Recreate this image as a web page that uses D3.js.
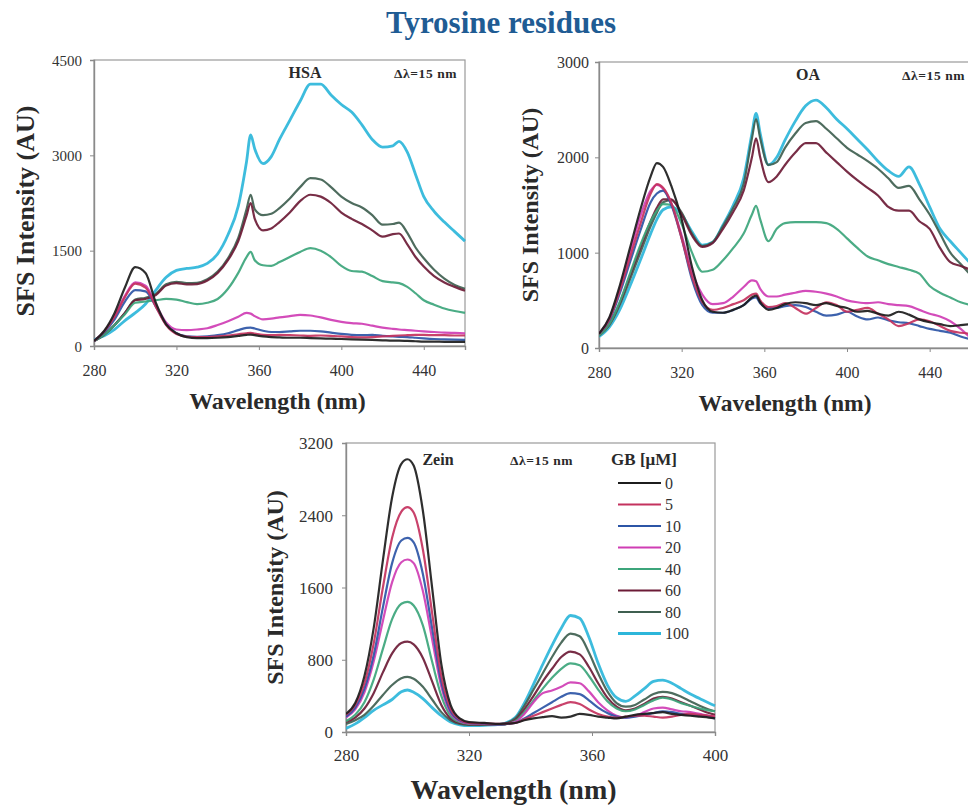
<!DOCTYPE html>
<html>
<head>
<meta charset="utf-8">
<script src="https://cdn.jsdelivr.net/npm/d3@7"></script>
<style>
  html, body { margin: 0; padding: 0; background: #fff; overflow: hidden; }
  svg, svg text { font-family: "Liberation Serif", "Times New Roman", "DejaVu Serif", serif; }
</style>
</head>
<body>
<svg id="chart" width="968" height="805"></svg>
<script>
const SERIF = "'Liberation Serif', 'Times New Roman', 'DejaVu Serif', serif";

// GB concentrations (µM) and the line colour used for each
const concentrations = ["0", "5", "10", "20", "40", "60", "80", "100"];
const seriesColors = ["#1c1c1c", "#c4325e", "#2c55a6", "#cf3db4", "#3ca57b", "#6c1b36", "#3f5f50", "#2db6da"];

// ---- HSA panel ----
const hsaWavelengths = [280,285,290,295,300,305,310,315,320,325,330,335,340,345,350,354,356,358,362,366,370,375,380,385,390,395,400,405,410,415,420,425,428,432,436,440,445,450,455,460];
const hsaValues = [
  /* 0 */   [80,240,520,920,1240,1150,680,340,200,140,125,125,130,140,160,175,180,170,150,140,135,130,130,125,120,115,110,105,100,95,90,85,85,80,75,70,70,65,65,65],
  /* 5 */   [80,230,460,770,980,920,620,330,190,150,140,140,150,165,185,200,205,195,175,170,175,170,165,160,165,160,150,140,135,140,150,160,165,170,175,175,170,170,165,165],
  /* 10 */  [80,220,420,700,880,860,620,340,200,150,145,150,170,200,250,285,290,275,240,220,220,230,240,240,230,210,190,175,170,175,160,150,145,140,130,120,110,105,100,95],
  /* 20 */  [80,230,470,790,1000,950,650,370,260,250,260,280,330,390,460,520,510,470,420,430,450,470,490,480,450,410,380,360,350,320,290,270,260,250,240,230,220,210,205,200],
  /* 40 */  [80,180,330,500,680,700,720,740,730,690,660,680,740,900,1150,1400,1480,1350,1270,1260,1320,1400,1480,1540,1500,1400,1260,1180,1170,1100,1020,1000,990,930,830,720,650,590,550,520],
  /* 60 */  [80,180,330,520,720,740,800,950,990,970,975,1030,1150,1350,1650,2050,2250,2000,1820,1850,1950,2100,2280,2380,2350,2250,2100,2000,1920,1820,1720,1760,1770,1600,1400,1250,1100,1000,930,870],
  /* 80 */  [80,180,330,520,730,760,820,970,1010,990,995,1050,1170,1380,1700,2150,2380,2150,2060,2080,2170,2320,2500,2640,2620,2500,2350,2250,2180,2060,1910,1920,1940,1780,1550,1380,1200,1060,960,900],
  /* 100 */ [100,160,260,400,520,660,880,1080,1190,1220,1240,1300,1450,1750,2200,2900,3320,3100,2870,2980,3250,3550,3850,4120,4120,3950,3800,3680,3480,3250,3130,3150,3220,3050,2700,2350,2120,1950,1800,1650]
];
const hsaYTicks = [0, 1500, 3000, 4500];
const hsaXTicks = [280, 320, 360, 400, 440];

// ---- OA panel ----
const oaWavelengths = [280,285,290,295,300,305,308,311,315,320,325,330,335,340,345,350,354,356,358,362,366,370,375,380,385,390,395,400,405,410,415,420,425,430,435,440,445,450,455,460];
const oaValues = [
  /* 0 */   [150,320,650,1050,1450,1800,1940,1900,1700,1350,850,500,380,370,400,450,530,550,480,400,420,460,480,470,450,470,440,420,380,390,360,340,380,350,300,270,250,230,240,250],
  /* 5 */   [150,300,600,950,1300,1620,1720,1680,1520,1150,750,480,400,420,460,500,560,570,500,430,440,470,420,360,420,480,450,380,400,420,360,300,230,260,300,280,230,180,160,150],
  /* 10 */  [150,290,570,900,1230,1530,1620,1650,1500,1150,720,450,370,370,400,450,520,530,470,420,420,440,450,430,380,340,350,380,330,300,320,290,270,260,230,200,180,160,120,90],
  /* 20 */  [150,310,620,1000,1380,1650,1710,1670,1520,1180,800,560,460,470,540,640,710,700,620,540,540,560,580,600,590,570,540,500,480,470,480,460,450,440,400,360,330,280,200,100],
  /* 40 */  [130,250,480,780,1080,1330,1440,1510,1500,1300,1000,800,820,920,1050,1200,1400,1490,1350,1120,1250,1310,1320,1320,1320,1310,1250,1150,1050,960,920,880,850,820,780,650,580,530,480,450],
  /* 60 */  [130,250,470,760,1050,1330,1470,1560,1560,1400,1180,1060,1100,1250,1430,1650,2000,2200,2000,1740,1800,1920,2050,2150,2150,2050,1950,1850,1760,1680,1600,1480,1440,1440,1330,1250,1050,900,860,820],
  /* 80 */  [130,240,450,720,1000,1280,1420,1530,1550,1420,1200,1070,1110,1280,1470,1720,2200,2400,2200,1920,1950,2100,2250,2360,2380,2300,2200,2100,2030,1960,1880,1780,1680,1700,1560,1400,1200,1000,880,760],
  /* 100 */ [120,220,400,650,920,1200,1350,1450,1480,1400,1220,1080,1110,1290,1500,1780,2250,2460,2250,1920,2000,2180,2380,2540,2600,2520,2400,2300,2190,2080,1960,1860,1800,1900,1720,1480,1250,1120,1000,880]
];
const oaYTicks = [0, 1000, 2000, 3000];
const oaXTicks = [280, 320, 360, 400, 440];

// ---- Zein panel ----
const zeinWavelengths = [280,283,286,289,292,295,298,300,302,305,308,311,314,317,320,325,330,335,338,341,344,347,350,353,356,359,362,365,368,371,374,377,380,383,386,389,392,395,398,400];
const zeinValues = [
  /* 0 */   [200,320,620,1150,1900,2600,2970,3020,2950,2450,1600,750,300,150,110,100,90,100,130,150,165,175,160,170,200,190,170,160,150,170,190,200,210,220,200,190,180,170,160,150],
  /* 5 */   [190,300,540,980,1600,2150,2440,2490,2430,2020,1320,620,260,140,100,95,90,100,140,180,220,260,300,330,310,250,200,170,160,170,180,180,170,160,170,190,200,190,180,170],
  /* 10 */  [170,270,480,850,1380,1870,2120,2150,2100,1750,1150,550,230,130,100,90,85,100,150,210,270,330,390,430,420,350,270,210,170,160,170,190,210,230,220,200,190,180,170,150],
  /* 20 */  [160,250,440,780,1230,1660,1880,1910,1870,1560,1030,500,210,120,95,90,85,110,200,330,430,460,500,550,540,450,330,240,180,160,180,220,260,270,250,230,220,200,180,170],
  /* 40 */  [120,190,330,580,920,1250,1420,1440,1400,1180,780,400,180,110,90,85,80,120,220,350,480,600,700,760,740,620,470,340,260,230,250,300,350,380,360,320,290,260,240,230],
  /* 60 */  [110,160,260,430,660,870,985,1000,970,820,560,300,150,100,85,80,80,130,250,400,560,700,830,890,860,720,540,380,280,240,260,310,370,390,370,330,290,250,210,190],
  /* 80 */  [90,130,190,290,410,520,595,610,590,500,360,220,130,90,80,80,85,150,290,470,650,830,990,1090,1060,880,650,450,320,280,300,360,420,445,430,390,340,290,250,230],
  /* 100 */ [40,90,160,240,300,360,445,465,440,370,270,180,110,80,70,75,85,160,320,530,750,960,1150,1290,1260,1050,760,520,380,340,400,480,560,575,540,480,420,370,320,290]
];
const zeinYTicks = [0, 800, 1600, 2400, 3200];
const zeinXTicks = [280, 320, 360, 400];

const svg = d3.select("#chart");

// Figure title
svg.append("text")
  .attr("x", 501).attr("y", 33)
  .attr("text-anchor", "middle")
  .style("font-family", SERIF)
  .attr("font-size", 31).attr("font-weight", "bold")
  .attr("fill", "#1f5c94")
  .text("Tyrosine residues");

function drawPanel(cfg) {
  const x = d3.scaleLinear().domain(cfg.xDomain).range([cfg.left, cfg.right]);
  const y = d3.scaleLinear().domain(cfg.yDomain).range([cfg.bottom, cfg.top]);
  const g = svg.append("g").style("font-family", SERIF);

  // frame
  g.append("rect")
    .attr("x", cfg.left).attr("y", cfg.top)
    .attr("width", cfg.right - cfg.left).attr("height", cfg.bottom - cfg.top)
    .attr("fill", "none").attr("stroke", "#9a9a9a").attr("stroke-width", 1.2);

  // axes
  const xAxis = g.append("g")
    .attr("transform", `translate(0,${cfg.bottom})`)
    .call(d3.axisBottom(x).tickValues(cfg.xTicks).tickSize(4).tickPadding(cfg.xPad).tickFormat(d3.format("d")));
  const yAxis = g.append("g")
    .attr("transform", `translate(${cfg.left},0)`)
    .call(d3.axisLeft(y).tickValues(cfg.yTicks).tickSize(4).tickPadding(cfg.yPad).tickFormat(d3.format("d")));
  [xAxis, yAxis].forEach(a => {
    a.attr("font-family", null).style("font-family", SERIF);
    a.select(".domain").attr("stroke", "#8a8a8a").attr("stroke-width", 1.4);
    a.selectAll(".tick line").attr("stroke", "#8a8a8a");
    a.selectAll(".tick text")
      .style("font-family", SERIF)
      .attr("fill", "#333");
  });
  xAxis.selectAll(".tick text").attr("font-size", cfg.xTickFont);
  yAxis.selectAll(".tick text").attr("font-size", cfg.yTickFont).attr("dy", "0.35em");

  // spectra
  const clipId = "clip-" + cfg.name;
  svg.append("clipPath").attr("id", clipId)
    .append("rect").attr("x", cfg.left).attr("y", cfg.top - 6)
    .attr("width", cfg.right - cfg.left + 2).attr("height", cfg.bottom - cfg.top + 8);
  const line = d3.line()
    .x((d, i) => x(cfg.wavelengths[i]))
    .y(d => y(d))
    .curve(d3.curveMonotoneX);
  const order = d3.range(cfg.values.length).reverse();
  g.append("g").attr("clip-path", `url(#${clipId})`)
    .selectAll("path")
    .data(order)
    .join("path")
      .attr("d", i => line(cfg.values[i]))
      .attr("fill", "none")
      .attr("stroke", i => seriesColors[i])
      .attr("stroke-width", i => i === 7 ? 2.8 : 2.2)
      .attr("stroke-linejoin", "round")
      .attr("opacity", 0.92);

  // axis titles
  g.append("text")
    .attr("x", (cfg.left + cfg.right) / 2 + cfg.xTitleDx).attr("y", cfg.xTitleY)
    .attr("text-anchor", "middle").attr("font-weight", "bold")
    .attr("font-size", cfg.xTitleFont).attr("fill", "#2a2a2a")
    .text("Wavelength (nm)");
  g.append("text")
    .attr("transform", `translate(${cfg.yTitleX},${(cfg.top + cfg.bottom) / 2 + cfg.yTitleDy}) rotate(-90)`)
    .attr("text-anchor", "middle").attr("font-weight", "bold")
    .attr("font-size", cfg.yTitleFont).attr("fill", "#2a2a2a")
    .text("SFS Intensity (AU)");

  // in-plot labels
  g.append("text")
    .attr("x", cfg.nameX).attr("y", cfg.labelY)
    .attr("text-anchor", "middle").attr("font-weight", "bold")
    .attr("font-size", 16).attr("fill", "#2a2a2a")
    .text(cfg.name);
  g.append("text")
    .attr("x", cfg.deltaX).attr("y", cfg.labelY)
    .attr("font-weight", "bold")
    .attr("font-size", 13.5).attr("letter-spacing", 0.6).attr("fill", "#2a2a2a")
    .text("Δλ=15 nm");

  return { x, y, g };
}

drawPanel({
  name: "HSA", left: 94, right: 465, top: 60, bottom: 346,
  xDomain: [280, 460], yDomain: [0, 4500],
  wavelengths: hsaWavelengths, values: hsaValues,
  xTicks: hsaXTicks, yTicks: hsaYTicks,
  xPad: 15, yPad: 8, xTickFont: 16, yTickFont: 15,
  xTitleY: 409, xTitleDx: -2, xTitleFont: 24,
  yTitleX: 34, yTitleDy: 8, yTitleFont: 26,
  nameX: 305, deltaX: 394, labelY: 78
});

drawPanel({
  name: "OA", left: 599, right: 971, top: 62, bottom: 348,
  xDomain: [280, 460], yDomain: [0, 3000],
  wavelengths: oaWavelengths, values: oaValues,
  xTicks: oaXTicks, yTicks: oaYTicks,
  xPad: 15, yPad: 6, xTickFont: 16, yTickFont: 16,
  xTitleY: 411, xTitleDx: 0, xTitleFont: 23.5,
  yTitleX: 538, yTitleDy: 0, yTitleFont: 24,
  nameX: 808, deltaX: 902, labelY: 80
});

const zein = drawPanel({
  name: "Zein", left: 346, right: 715, top: 443, bottom: 732,
  xDomain: [280, 400], yDomain: [0, 3200],
  wavelengths: zeinWavelengths, values: zeinValues,
  xTicks: zeinXTicks, yTicks: zeinYTicks,
  xPad: 13, yPad: 9, xTickFont: 17, yTickFont: 17,
  xTitleY: 799, xTitleDx: -17, xTitleFont: 28,
  yTitleX: 283, yTitleDy: 0, yTitleFont: 24,
  nameX: 438, deltaX: 510, labelY: 465
});

// Legend (GB concentration) inside the Zein panel
const legend = zein.g.append("g");
legend.append("text")
  .attr("x", 644).attr("y", 465)
  .attr("text-anchor", "middle").attr("font-weight", "bold")
  .attr("font-size", 17).attr("fill", "#2a2a2a")
  .text("GB [μM]");
const rows = legend.selectAll("g.row")
  .data(concentrations)
  .join("g")
    .attr("class", "row")
    .attr("transform", (d, i) => `translate(0,${483 + i * 21.5})`);
rows.append("line")
  .attr("x1", 618).attr("x2", 661)
  .attr("stroke", (d, i) => seriesColors[i])
  .attr("stroke-width", (d, i) => i === 7 ? 2.8 : 2.2);
rows.append("text")
  .attr("x", 665).attr("dy", "0.35em")
  .attr("font-size", 16).attr("fill", "#333")
  .text(d => d);
</script>
</body>
</html>
